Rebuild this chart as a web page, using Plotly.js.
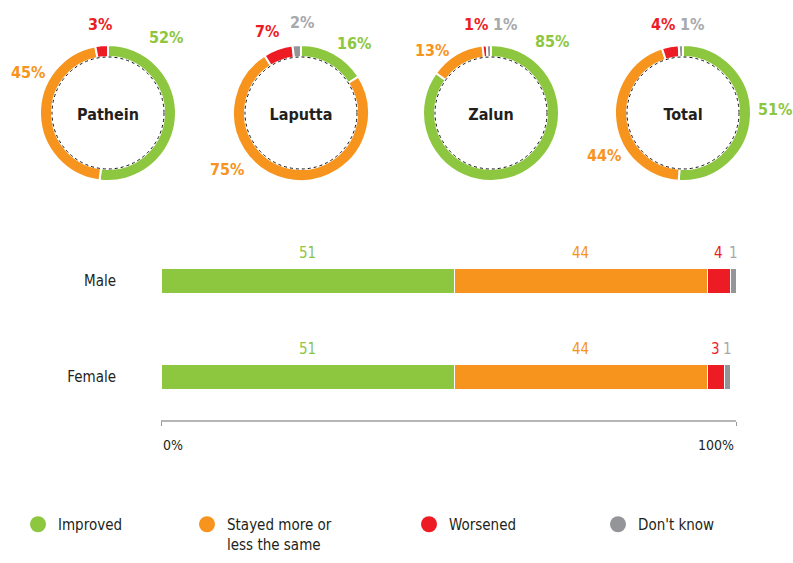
<!DOCTYPE html>
<html>
<head>
<meta charset="utf-8">
<script src="https://cdn.plot.ly/plotly-3.0.1.min.js"></script>
<style>html,body{margin:0;padding:0;background:#fff;}#chart{width:793px;height:563px;}</style>
</head>
<body>
<div id="chart"></div>
<script>
// ---------- data ----------
const regions = ['Pathein', 'Laputta', 'Zalun', 'Total'];
const responses = ['Improved', 'Stayed more or less the same', 'Worsened', "Don't know"];
const legendLabels = ['Improved', 'Stayed more or<br>less the same', 'Worsened', "Don't know"];
const regionImproved = [52, 16, 85, 51];
const regionStayed   = [45, 75, 13, 44];
const regionWorsened = [3, 7, 1, 4];
const regionDontKnow = [0, 2, 1, 1];

const genders = ['Male', 'Female'];
const genderImproved = [51, 51];
const genderStayed   = [44, 44];
const genderWorsened = [4, 3];
const genderDontKnow = [1, 1];

const axisTickVals = [0, 100];
const axisTickText = ['0%', '100%'];

// ---------- styles ----------
const W = 793, H = 563;
const FONT = '"DejaVu Sans Condensed", "Liberation Sans Narrow", "Roboto Condensed", "Arial Narrow", sans-serif';
const colors = ['#8dc63f', '#f7941d', '#ed1c24', '#939598'];
const textColors = ['#8dc63f', '#f7941d', '#ed1c24', '#a7a9ac'];
const dark = '#231f20';
const px = x => x / W;
const py = y => 1 - y / H;

const pieCenters = [108, 301, 491, 683];
const pieCY = 113, pieR = 68, holeR = 56;
// label pixel positions [x,y] per region, per response
const labelPos = [
  [[166, 37], [28, 72], [100, 24], [0, 0]],
  [[354, 43], [227, 170], [267, 31], [302, 23]],
  [[552, 42], [432, 50], [476, 24], [505, 24]],
  [[775, 109], [604, 155], [663, 24], [692, 24]]
];

const regionSeries = [regionImproved, regionStayed, regionWorsened, regionDontKnow];
const genderSeries = [genderImproved, genderStayed, genderWorsened, genderDontKnow];

const traces = [];
const annotations = [];
const shapes = [];

regions.forEach((name, i) => {
  const vals = regionSeries.map(s => s[i]);
  const cx = pieCenters[i];
  traces.push({
    type: 'pie',
    labels: responses,
    values: vals,
    sort: false,
    direction: 'clockwise',
    rotation: 0,
    hole: holeR / pieR,
    textinfo: 'none',
    hoverinfo: 'label+percent',
    showlegend: false,
    marker: {colors: colors, line: {color: '#ffffff', width: 2}},
    domain: {x: [px(cx - pieR), px(cx + pieR)], y: [py(pieCY + pieR), py(pieCY - pieR)]},
    title: {text: name, position: 'middle center', font: {family: FONT, size: 16, color: dark, weight: 'bold'}}
  });
  shapes.push({
    type: 'circle', xref: 'paper', yref: 'paper', xsizemode: 'pixel', ysizemode: 'pixel',
    xanchor: px(cx), yanchor: py(pieCY), x0: -holeR, x1: holeR, y0: -holeR, y1: holeR,
    line: {color: '#111', width: 1, dash: 'dot'}, fillcolor: 'rgba(0,0,0,0)'
  });
  vals.forEach((v, j) => {
    if (v > 0) {
      annotations.push({
        xref: 'paper', yref: 'paper', x: px(labelPos[i][j][0]), y: py(labelPos[i][j][1]),
        xanchor: 'center', yanchor: 'middle', showarrow: false,
        text: v + '%', font: {family: FONT, size: 16, color: textColors[j], weight: 'bold'}
      });
    }
  });
});

// stacked bars
responses.forEach((r, j) => {
  traces.push({
    type: 'bar', orientation: 'h',
    x: genderSeries[j], y: genders, name: r,
    width: 0.27, showlegend: false,
    marker: {color: colors[j], line: {color: '#ffffff', width: 1}},
    hoverinfo: 'x+name',
    xaxis: 'x', yaxis: 'y'
  });
});

// value labels above bar segments
genders.forEach((g, gi) => {
  let cum = 0;
  genderSeries.forEach((s, j) => {
    const v = s[gi];
    const mid = cum + v / 2;
    cum += v;
    annotations.push({
      xref: 'x', yref: 'y', x: mid, y: g, yshift: 28,
      xanchor: 'center', yanchor: 'middle', showarrow: false,
      text: String(v), font: {family: FONT, size: 15, color: textColors[j]}
    });
  });
});

// axis end labels
axisTickVals.forEach((v, k) => {
  annotations.push({
    xref: 'x', yref: 'paper', x: v, y: py(445),
    xanchor: k === 0 ? 'left' : 'right', yanchor: 'middle', showarrow: false,
    text: axisTickText[k], font: {family: FONT, size: 14, color: dark}
  });
});

// legend traces
const legendX = [38, 207, 429, 618];
const legendNames = ['legend', 'legend2', 'legend3', 'legend4'];
responses.forEach((r, j) => {
  traces.push({
    type: 'scatter', mode: 'markers', x: [null], y: [null],
    name: legendLabels[j], legend: legendNames[j],
    marker: {color: colors[j], size: 18, symbol: 'circle'},
    xaxis: 'x', yaxis: 'y', hoverinfo: 'skip'
  });
});

const layout = {
  width: W, height: H,
  margin: {l: 0, r: 0, t: 0, b: 0, autoexpand: false},
  paper_bgcolor: '#ffffff', plot_bgcolor: '#ffffff',
  barmode: 'stack',
  font: {family: FONT, color: dark},
  xaxis: {
    domain: [px(161), px(736)], range: [0, 100], fixedrange: true,
    showgrid: false, zeroline: false,
    showline: true, linecolor: '#b5b5b5', linewidth: 2,
    tickmode: 'array', tickvals: axisTickVals, ticktext: ['', ''],
    ticks: 'outside', ticklen: 4, tickcolor: '#999', tickwidth: 1
  },
  yaxis: {
    domain: [py(420), py(240)], range: [-0.448, 1.427], fixedrange: true,
    type: 'category', categoryorder: 'array', categoryarray: ['Female', 'Male'],
    showgrid: false, zeroline: false, showline: false, ticks: '',
    ticklabelstandoff: 44,
    tickfont: {family: FONT, size: 15, color: dark}
  },
  shapes: shapes,
  annotations: annotations
};
legendNames.forEach((ln, j) => {
  layout[ln] = {
    xref: 'container', yref: 'container',
    x: px(legendX[j] - 20), y: py(508), xanchor: 'left', yanchor: 'top',
    orientation: 'v', valign: 'top', itemwidth: 30,
    bgcolor: 'rgba(0,0,0,0)', borderwidth: 0,
    font: {family: FONT, size: 15, color: dark}
  };
});

Plotly.newPlot('chart', traces, layout, {staticPlot: true, displayModeBar: false});
</script>
</body>
</html>
